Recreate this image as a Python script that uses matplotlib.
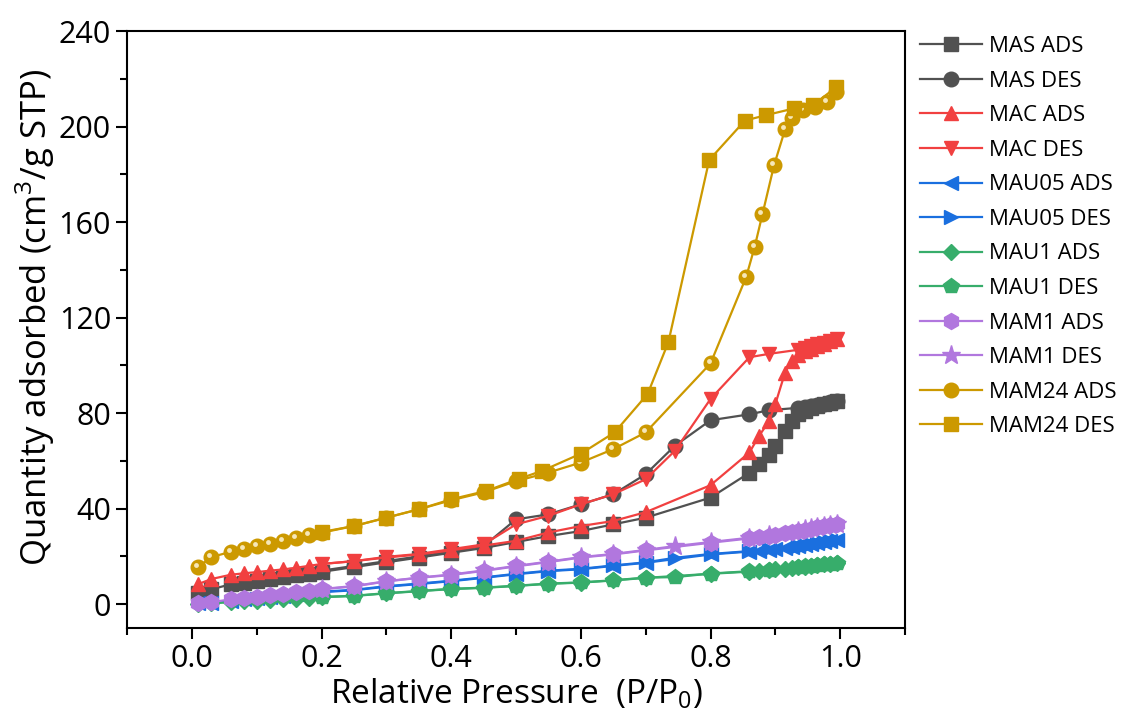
import numpy as np
import matplotlib
matplotlib.use("Agg")
import matplotlib.pyplot as plt
import matplotlib.transforms as mtransforms
from matplotlib.ticker import MultipleLocator

plt.rcParams['font.family'] = ['Open Sans', 'DejaVu Sans']
plt.rcParams['mathtext.fontset'] = 'custom'
plt.rcParams['mathtext.rm'] = 'Open Sans'

# relative pressure points
p_ads = [0.01, 0.03, 0.06, 0.08, 0.10, 0.12, 0.14, 0.16, 0.18, 0.20, 0.25, 0.30,
         0.35, 0.40, 0.45, 0.50, 0.55, 0.60, 0.65, 0.70, 0.80, 0.86, 0.875, 0.89,
         0.90, 0.915, 0.925, 0.935, 0.945, 0.955, 0.965, 0.975, 0.985, 0.995]
p_des = [0.995, 0.985, 0.975, 0.965, 0.955, 0.945, 0.935, 0.89, 0.86, 0.80, 0.745,
         0.70, 0.65, 0.60, 0.55, 0.50, 0.45, 0.40, 0.35, 0.30, 0.25, 0.20]
p_mam24_ads = [0.01, 0.03, 0.06, 0.08, 0.10, 0.12, 0.14, 0.16, 0.18, 0.20, 0.25,
               0.30, 0.35, 0.40, 0.45, 0.50, 0.55, 0.60, 0.65, 0.70, 0.80, 0.855,
               0.868, 0.88, 0.898, 0.915, 0.925, 0.943, 0.961, 0.979, 0.994]
p_mam24_des = [0.994, 0.958, 0.929, 0.886, 0.853, 0.798, 0.735, 0.703, 0.652,
               0.60, 0.54, 0.505, 0.454, 0.40, 0.35, 0.30, 0.25, 0.20]

# quantity adsorbed (cm3/g STP)
mas_ads = [4.8, 6.2, 8.3, 9.0, 9.8, 10.5, 11.3, 12.0, 12.8, 13.5, 15.5, 17.5,
           19.5, 21.5, 23.5, 26.0, 28.5, 30.6, 33.4, 36.2, 44.6, 55.0, 58.6, 62.5,
           66.3, 72.6, 76.8, 79.5, 81.0, 82.0, 83.0, 83.7, 84.3, 85.0]
mas_des = [85.0, 84.5, 84.0, 83.5, 83.0, 82.6, 82.2, 81.2, 79.5, 77.0, 66.3,
           54.4, 46.0, 41.8, 37.6, 35.5, 24.3, 22.0, 20.0, 18.0, 16.0, 14.0]
mac_ads = [8.4, 10.5, 12.3, 12.9, 13.4, 14.0, 14.5, 15.2, 16.0, 16.8, 18.0, 19.5,
           20.8, 22.5, 24.5, 26.5, 30.0, 32.7, 34.8, 38.5, 49.8, 63.5, 70.5, 76.5,
           83.8, 97.0, 102.0, 104.5, 106.0, 107.0, 108.0, 109.0, 110.0, 111.0]
mac_des = [111.0, 110.2, 109.5, 108.8, 108.0, 107.2, 106.5, 104.8, 103.4, 85.9,
           64.2, 52.3, 46.0, 41.8, 37.0, 33.4, 25.0, 23.0, 21.0, 19.8, 18.0, 16.8]
mau05_ads = [0.3, 0.6, 1.5, 2.0, 2.5, 3.0, 3.6, 4.1, 4.6, 5.0, 5.8, 7.3, 8.4, 9.6,
             11.0, 12.5, 13.8, 14.6, 16.0, 17.3, 20.8, 22.0, 22.4, 22.8, 23.2,
             23.7, 24.1, 24.5, 24.9, 25.3, 25.7, 26.0, 26.4, 26.8]
mau05_des = [26.8, 26.4, 26.0, 25.6, 25.2, 24.8, 24.4, 23.0, 22.2, 21.0, 19.4,
             17.5, 16.2, 14.8, 14.0, 12.7, 11.2, 9.8, 8.6, 7.5, 6.0, 5.2]
mau1_ads = [0.0, 0.3, 0.8, 1.1, 1.4, 1.7, 2.0, 2.3, 2.6, 2.9, 3.4, 4.5, 5.4, 6.3,
            6.8, 7.6, 8.5, 9.0, 9.9, 11.0, 12.7, 13.6, 13.9, 14.2, 14.5, 14.8,
            15.1, 15.4, 15.7, 16.0, 16.3, 16.6, 16.9, 17.3]
mau1_des = [17.3, 17.0, 16.7, 16.4, 16.1, 15.8, 15.5, 14.3, 13.8, 12.8, 11.3,
            11.1, 10.0, 9.1, 8.6, 7.7, 6.9, 6.4, 5.5, 4.6, 3.5, 3.0]
mam1_ads = [0.5, 0.8, 2.0, 2.5, 3.1, 3.7, 4.3, 4.9, 5.5, 6.2, 7.4, 9.5, 11.0,
            12.2, 13.9, 15.8, 17.6, 19.5, 20.8, 22.5, 25.7, 27.5, 28.0, 28.5,
            29.0, 29.6, 30.1, 30.6, 31.1, 31.6, 32.1, 32.6, 33.0, 33.4]
mam1_des = [33.4, 33.0, 32.6, 32.2, 31.8, 31.3, 30.8, 28.8, 27.8, 26.0, 24.3,
            22.7, 21.0, 19.7, 17.8, 16.0, 14.1, 12.4, 11.1, 9.6, 7.6, 6.3]
mam24_ads = [15.5, 19.7, 21.9, 23.0, 24.3, 25.3, 26.4, 27.8, 29.0, 29.9, 32.7,
             36.2, 39.7, 43.5, 46.8, 51.5, 55.1, 59.3, 64.9, 71.9, 100.8, 137.0,
             149.5, 163.2, 183.8, 198.8, 203.4, 206.9, 208.3, 210.4, 214.6]
mam24_des = [216.5, 209.0, 207.6, 204.8, 202.5, 186.0, 109.7, 88.0, 71.9, 63.0,
             55.8, 52.5, 47.4, 43.9, 39.7, 36.2, 32.7, 30.2]

fig = plt.figure(figsize=(11.23, 7.22), dpi=100)
ax = fig.add_axes([0.1131, 0.1302, 0.6928, 0.8268])

kw = dict(lw=1.6, ms=10.5)
ax.plot(p_ads, mas_ads, '-s', color='#515151', label='MAS ADS', **kw)
ax.plot(p_des, mas_des, '-o', color='#515151', label='MAS DES', **kw)
ax.plot(p_ads, mac_ads, '-^', color='#F14040', label='MAC ADS', **kw)
ax.plot(p_des, mac_des, '-v', color='#F14040', label='MAC DES', **kw)
ax.plot(p_ads, mau05_ads, '-<', color='#1A6FDF', label='MAU05 ADS', **kw)
ax.plot(p_des, mau05_des, '->', color='#1A6FDF', label='MAU05 DES', **kw)
ax.plot(p_ads, mau1_ads, '-D', color='#37AD6B', label='MAU1 ADS', lw=1.6, ms=8.5)
ax.plot(p_des, mau1_des, '-p', color='#37AD6B', label='MAU1 DES', lw=1.6, ms=11.5)
ax.plot(p_ads, mam1_ads, '-h', color='#B177DE', label='MAM1 ADS', lw=1.6, ms=11.5)
ax.plot(p_des, mam1_des, '-*', color='#B177DE', label='MAM1 DES', lw=1.6, ms=14)
ax.plot(p_mam24_ads, mam24_ads, '-o', color='#CC9900', label='MAM24 ADS', **kw)
# little shine on the gold spheres
shine = mtransforms.offset_copy(ax.transData, fig=fig, x=-2, y=2, units='dots')
ax.plot(p_mam24_ads, mam24_ads, 'o', color='#F6E7B8', ms=3.5, mew=0,
        transform=shine, label='_nolegend_')
ax.plot(p_mam24_des, mam24_des, '-s', color='#CC9900', label='MAM24 DES', **kw)

ax.set_xlim(-0.1, 1.1)
ax.set_ylim(-10, 240)
ax.xaxis.set_major_locator(MultipleLocator(0.2))
ax.xaxis.set_minor_locator(MultipleLocator(0.1))
ax.yaxis.set_major_locator(MultipleLocator(40))
ax.yaxis.set_minor_locator(MultipleLocator(20))
ax.tick_params(which='major', length=8, width=1.5, labelsize=22, direction='out')
ax.tick_params(which='minor', length=5, width=1.5, direction='out')
ax.tick_params(top=False, right=False)
for s in ax.spines.values():
    s.set_linewidth(1.5)

ax.set_xlabel('Relative Pressure  (P/P$_\\mathregular{0}$)', fontsize=24, labelpad=2)
ax.set_ylabel('Quantity adsorbed (cm$^\\mathregular{3}$/g STP)', fontsize=25)
ax.yaxis.set_label_coords(-0.09, 0.52)

fig.legend(loc='upper left', bbox_to_anchor=(0.819, 0.950), frameon=False,
           fontsize=16, handlelength=2.8, handletextpad=0.3, labelspacing=0.61,
           borderpad=0, borderaxespad=0)

fig.savefig('out.png', dpi=100)
